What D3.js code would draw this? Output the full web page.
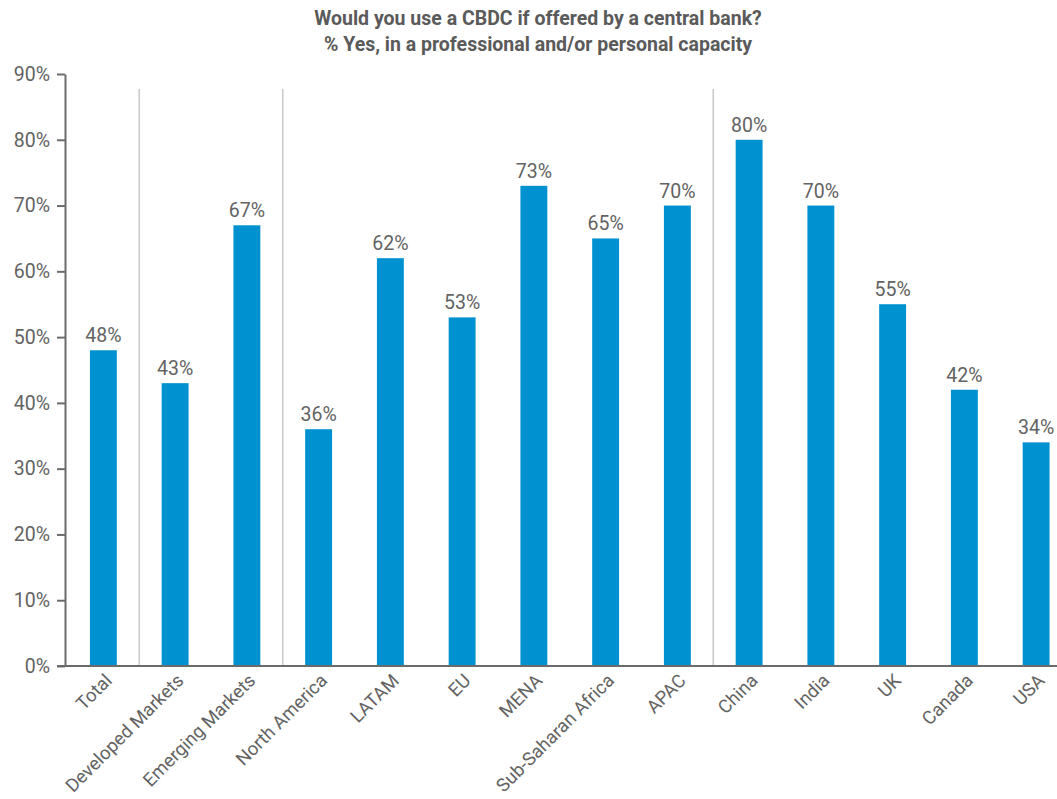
<!DOCTYPE html>
<html>
<head>
<meta charset="utf-8">
<script src="https://cdn.jsdelivr.net/npm/d3@7/dist/d3.min.js"></script>
<style>
  html, body { margin: 0; padding: 0; background: #fff; }
  svg { display: block; }
  text { font-family: Roboto, "Open Sans", sans-serif; }
</style>
</head>
<body>
<svg id="chart" width="1057" height="799"></svg>
<script>
// Survey results: share answering "Yes" by region / market
const categories = ["Total", "Developed Markets", "Emerging Markets", "North America", "LATAM", "EU",
  "MENA", "Sub-Saharan Africa", "APAC", "China", "India", "UK", "Canada", "USA"];
const values = [48, 43, 67, 36, 62, 53, 73, 65, 70, 80, 70, 55, 42, 34];
const yTicks = [0, 10, 20, 30, 40, 50, 60, 70, 80, 90];
// group separators drawn after these categories
const separatorsAfter = ["Total", "Emerging Markets", "APAC"];
const titleLines = ["Would you use a CBDC if offered by a central bank?",
  "% Yes, in a professional and/or personal capacity"];

const svg = d3.select("#chart");
const textColor = "#636363";
const axisColor = "#6b6b6b";
const barColor = "#0092d0";

const plot = { left: 65, top: 74, bottom: 666, right: 1057 };

const x = d3.scaleBand()
  .domain(categories)
  .range([67.5, 1072])
  .paddingInner(0.625)
  .paddingOuter(0.3125);

const y = d3.scaleLinear()
  .domain([0, 90])
  .range([plot.bottom, plot.top]);

// title
svg.append("g")
  .selectAll("text")
  .data(titleLines)
  .join("text")
  .attr("x", 538)
  .attr("y", (d, i) => 25 + i * 26)
  .attr("text-anchor", "middle")
  .attr("font-size", 19.5)
  .attr("font-weight", "bold")
  .attr("fill", "#5a5a5a")
  .text(d => d);

// group separators
svg.append("g")
  .selectAll("line")
  .data(separatorsAfter)
  .join("line")
  .attr("x1", d => x(d) + x.bandwidth() / 2 + x.step() / 2)
  .attr("x2", d => x(d) + x.bandwidth() / 2 + x.step() / 2)
  .attr("y1", 89)
  .attr("y2", plot.bottom)
  .attr("stroke", "#c8c8c8")
  .attr("stroke-width", 1.5);

// bars
svg.append("g")
  .selectAll("rect")
  .data(categories)
  .join("rect")
  .attr("x", d => x(d))
  .attr("width", x.bandwidth())
  .attr("y", (d, i) => y(values[i]))
  .attr("height", (d, i) => y(0) - y(values[i]))
  .attr("fill", barColor);

// value labels
svg.append("g")
  .selectAll("text")
  .data(categories)
  .join("text")
  .attr("x", d => x(d) + x.bandwidth() / 2)
  .attr("y", (d, i) => y(values[i]) - 8)
  .attr("text-anchor", "middle")
  .attr("font-size", 19.5)
  .attr("fill", textColor)
  .text((d, i) => values[i] + "%");

// y axis
const yAxis = svg.append("g")
  .attr("transform", `translate(${plot.left},0)`)
  .call(d3.axisLeft(y).tickValues(yTicks).tickFormat(d => d + "%").tickSize(8).tickPadding(7).tickSizeOuter(0));
yAxis.select(".domain").attr("stroke", axisColor).attr("stroke-width", 2);
yAxis.selectAll(".tick line").attr("stroke", axisColor).attr("stroke-width", 2);
yAxis.selectAll(".tick text")
  .attr("font-size", 19.5)
  .attr("fill", textColor)
  .attr("font-family", "Roboto, sans-serif");

// x axis
const xAxis = svg.append("g")
  .attr("transform", `translate(0,${plot.bottom})`)
  .call(d3.axisBottom(x).tickSize(0).tickSizeOuter(0));
xAxis.select(".domain").remove();
xAxis.append("line")
  .attr("x1", plot.left - 8)
  .attr("x2", plot.right)
  .attr("stroke", axisColor)
  .attr("stroke-width", 2);
xAxis.selectAll(".tick text")
  .attr("font-size", 18.5)
  .attr("fill", textColor)
  .attr("font-family", "Roboto, sans-serif")
  .attr("text-anchor", "end")
  .attr("dy", "0.35em")
  .attr("transform", "translate(3,9) rotate(-45)");
</script>
</body>
</html>
